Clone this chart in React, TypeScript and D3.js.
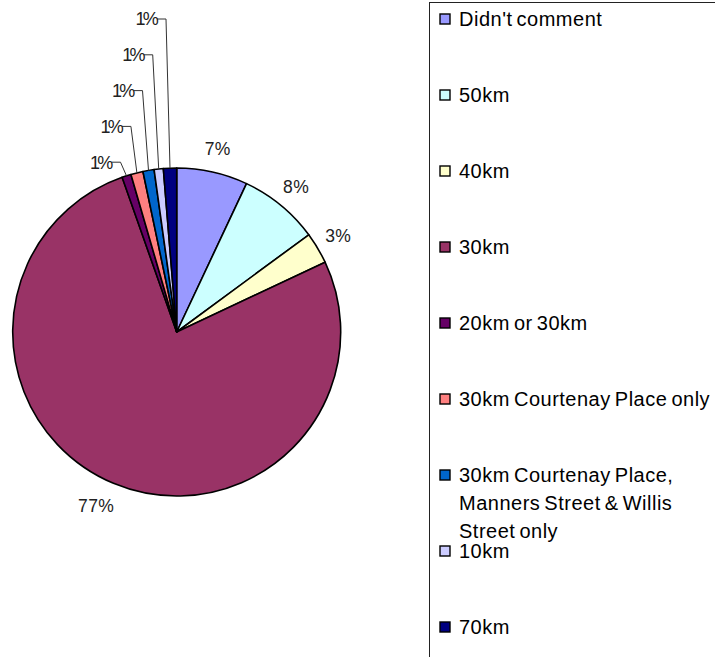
import React from "react";
import * as d3 from "d3";

// Survey responses: preferred speed limit (share of responses, %)
const categories = [
  "Didn't comment",
  "50km",
  "40km",
  "30km",
  "20km or 30km",
  "30km Courtenay Place only",
  "30km Courtenay Place, Manners Street & Willis Street only",
  "10km",
  "70km",
];
const shares = [7.0, 7.9, 3.1, 76.6, 0.9, 1.2, 1.1, 0.9, 1.3];
const colors = [
  "#9999FF",
  "#CCFFFF",
  "#FFFFCC",
  "#993366",
  "#660066",
  "#FF8080",
  "#0066CC",
  "#CCCCFF",
  "#000080",
];

const W = 715;
const H = 657;
const FONT = "'Liberation Sans', Arial, Helvetica, sans-serif";

// pie geometry
const cx = 176.7;
const cy = 332;
const R = 164;
const labelR = 188;

// slices under this share get a label on a leader line
const smallShare = 2;
const leaderTopY = 19;
const leaderStep = 35.8;

// legend geometry
const legendX = 429.5;
const legendY = 2.5;
const legendItemTop = 19;
const legendStep = 76;
const legendLineH = 27.8;
const legendFont = 20;
const legendSpacing = 0.5;
const legendWordSpacing = -2;
const legendWrap = 262;

function measure(text: string, size: number, spacing: number): number {
  const canvas = document.createElement("canvas");
  const ctx = canvas.getContext("2d");
  if (!ctx) return text.length * size * 0.55;
  ctx.font = `${size}px ${FONT}`;
  const spaces = text.split(" ").length - 1;
  return ctx.measureText(text).width + spacing * text.length + legendWordSpacing * spaces;
}

function wrap(text: string, maxW: number): string[] {
  const words = text.split(" ");
  const lines: string[] = [];
  let cur = "";
  for (const w of words) {
    const t = cur ? cur + " " + w : w;
    if (cur && measure(t, legendFont, legendSpacing) > maxW) {
      lines.push(cur);
      cur = w;
    } else cur = t;
  }
  if (cur) lines.push(cur);
  return lines;
}

export default function App() {
  const total = d3.sum(shares);
  const pie = d3
    .pie<number>()
    .sort(null)
    .value((d) => d)
    .startAngle(0)
    .endAngle(2 * Math.PI);
  const arcs = pie(shares);
  const arc = d3.arc<d3.PieArcDatum<number>>().innerRadius(0).outerRadius(R);
  const pct = (v: number) => `${Math.round((v / total) * 100)}%`;

  const polar = (a: number, r: number): [number, number] => [
    cx + r * Math.sin(a),
    cy - r * Math.cos(a),
  ];

  const small = arcs
    .map((a, i) => ({ a, i }))
    .filter((d) => (d.a.value / total) * 100 < smallShare);

  return (
    <svg
      width={W}
      height={H}
      style={{ position: "absolute", left: 0, top: 0, display: "block", background: "#fff" }}
      fontFamily={FONT}
    >
      <g>
        {arcs.map((a, i) => (
          <path
            key={i}
            d={arc(a) || ""}
            transform={`translate(${cx},${cy})`}
            fill={colors[i]}
            stroke="#000"
            strokeWidth={1.6}
            strokeLinejoin="round"
          />
        ))}
      </g>

      {/* direct labels for larger slices */}
      {arcs.map((a, i) => {
        if ((a.value / total) * 100 < smallShare) return null;
        const mid = (a.startAngle + a.endAngle) / 2;
        const [x, y] = polar(mid, labelR);
        const shift = Math.sin(mid) < -0.3 ? -8 : 0;
        return (
          <text
            key={i}
            x={x + shift}
            y={y}
            dy="0.35em"
            textAnchor="middle"
            fontSize={17.5}
            letterSpacing={0.4}
            fill="#222"
          >
            {pct(a.value)}
          </text>
        );
      })}

      {/* leader-line labels for the thin slices */}
      {small.map((d, k) => {
        const mid = (d.a.startAngle + d.a.endAngle) / 2;
        const [ax, ay] = polar(mid, R);
        const ly = leaderTopY + (small.length - 1 - k) * leaderStep;
        const elbowX = ax - 2 - 4 * (small.length - 1 - k > 0 ? 1 : 0.5);
        const textEnd = elbowX - 10;
        return (
          <g key={d.i}>
            <polyline
              points={`${textEnd + 1},${ly} ${elbowX},${ly} ${ax},${ay}`}
              fill="none"
              stroke="#333"
              strokeWidth={1}
            />
            <text
              x={textEnd}
              y={ly}
              dy="0.35em"
              textAnchor="end"
              fontSize={18}
              letterSpacing={-2.8}
              fill="#222"
            >
              {pct(d.a.value)}
            </text>
          </g>
        );
      })}

      {/* legend */}
      <rect
        x={legendX}
        y={legendY}
        width={W}
        height={H}
        fill="none"
        stroke="#222"
        strokeWidth={1}
      />
      {categories.map((c, i) => {
        const lines = wrap(c, legendWrap);
        const y0 = legendItemTop + i * legendStep;
        return (
          <g key={i}>
            <rect
              x={440}
              y={y0 - 5}
              width={10}
              height={10}
              fill={colors[i]}
              stroke="#000"
              strokeWidth={1.4}
            />
            <text
              x={459}
              y={y0}
              fontSize={legendFont}
              letterSpacing={legendSpacing}
              wordSpacing={legendWordSpacing}
              fill="#000"
            >
              {lines.map((l, j) => (
                <tspan key={j} x={459} y={y0 + j * legendLineH} dy="0.35em">
                  {l}
                </tspan>
              ))}
            </text>
          </g>
        );
      })}
    </svg>
  );
}
